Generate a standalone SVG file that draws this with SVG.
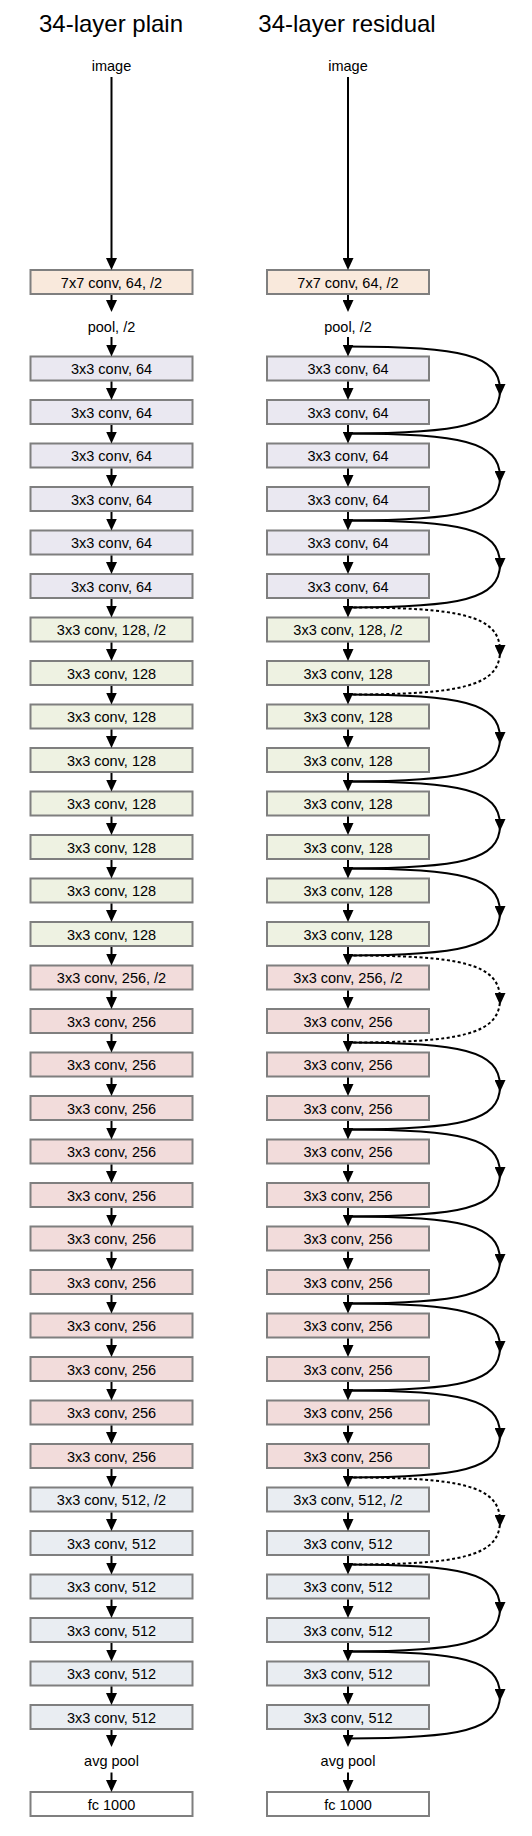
<svg xmlns="http://www.w3.org/2000/svg" width="532" height="1836" viewBox="0 0 532 1836">
<style>
.t{font-family:"Liberation Sans",Arial,sans-serif;font-size:14.5px;text-anchor:middle;fill:#000}
.h{font-size:24px}
.bx{stroke:#7f7f7f;stroke-width:2}
.c0{fill:#f9e9dc}.c1{fill:#eae8f1}.c2{fill:#eef2e2}.c3{fill:#f2dcdb}.c4{fill:#e9edf2}.c5{fill:#fff}
.ln{stroke:#000;stroke-width:2;fill:none;marker-end:url(#ah)}
.sk{stroke:#000;stroke-width:2;fill:none;marker-mid:url(#am)}
.dt{stroke-dasharray:3 2.5}
</style>
<defs>
<marker id="ah" viewBox="0 0 12 11" refX="8" refY="5.5" markerWidth="12" markerHeight="11" markerUnits="userSpaceOnUse" orient="auto"><path d="M0,0 L12,5.5 L0,11 z" fill="#000"/></marker>
<marker id="am" viewBox="0 0 12 11" refX="6" refY="5.5" markerWidth="12" markerHeight="11" markerUnits="userSpaceOnUse" orient="auto"><path d="M0,0 L12,5.5 L0,11 z" fill="#000"/></marker>
</defs>
<rect width="532" height="1836" fill="#fff"/>
<g id="titles">
<text class="t h" x="111" y="32">34-layer plain</text>
<text class="t h" x="347" y="32">34-layer residual</text>
</g>
<g id="plain">
<g id="p-image"><text class="t" x="111.5" y="71">image</text></g>
<g id="p-conv1"><rect class="bx c0" x="30.5" y="270" width="162" height="24"/><text class="t" x="111.5" y="287.8">7x7 conv, 64, /2</text></g>
<g id="p-pool"><text class="t" x="111.5" y="332">pool, /2</text></g>
<g id="p-b0"><rect class="bx c1" x="30.5" y="356.5" width="162" height="24"/><text class="t" x="111.5" y="374.3">3x3 conv, 64</text></g>
<g id="p-b1"><rect class="bx c1" x="30.5" y="400" width="162" height="24"/><text class="t" x="111.5" y="417.8">3x3 conv, 64</text></g>
<g id="p-b2"><rect class="bx c1" x="30.5" y="443.5" width="162" height="24"/><text class="t" x="111.5" y="461.3">3x3 conv, 64</text></g>
<g id="p-b3"><rect class="bx c1" x="30.5" y="487" width="162" height="24"/><text class="t" x="111.5" y="504.8">3x3 conv, 64</text></g>
<g id="p-b4"><rect class="bx c1" x="30.5" y="530.5" width="162" height="24"/><text class="t" x="111.5" y="548.3">3x3 conv, 64</text></g>
<g id="p-b5"><rect class="bx c1" x="30.5" y="574" width="162" height="24"/><text class="t" x="111.5" y="591.8">3x3 conv, 64</text></g>
<g id="p-b6"><rect class="bx c2" x="30.5" y="617.5" width="162" height="24"/><text class="t" x="111.5" y="635.3">3x3 conv, 128, /2</text></g>
<g id="p-b7"><rect class="bx c2" x="30.5" y="661" width="162" height="24"/><text class="t" x="111.5" y="678.8">3x3 conv, 128</text></g>
<g id="p-b8"><rect class="bx c2" x="30.5" y="704.5" width="162" height="24"/><text class="t" x="111.5" y="722.3">3x3 conv, 128</text></g>
<g id="p-b9"><rect class="bx c2" x="30.5" y="748" width="162" height="24"/><text class="t" x="111.5" y="765.8">3x3 conv, 128</text></g>
<g id="p-b10"><rect class="bx c2" x="30.5" y="791.5" width="162" height="24"/><text class="t" x="111.5" y="809.3">3x3 conv, 128</text></g>
<g id="p-b11"><rect class="bx c2" x="30.5" y="835" width="162" height="24"/><text class="t" x="111.5" y="852.8">3x3 conv, 128</text></g>
<g id="p-b12"><rect class="bx c2" x="30.5" y="878.5" width="162" height="24"/><text class="t" x="111.5" y="896.3">3x3 conv, 128</text></g>
<g id="p-b13"><rect class="bx c2" x="30.5" y="922" width="162" height="24"/><text class="t" x="111.5" y="939.8">3x3 conv, 128</text></g>
<g id="p-b14"><rect class="bx c3" x="30.5" y="965.5" width="162" height="24"/><text class="t" x="111.5" y="983.3">3x3 conv, 256, /2</text></g>
<g id="p-b15"><rect class="bx c3" x="30.5" y="1009" width="162" height="24"/><text class="t" x="111.5" y="1026.8">3x3 conv, 256</text></g>
<g id="p-b16"><rect class="bx c3" x="30.5" y="1052.5" width="162" height="24"/><text class="t" x="111.5" y="1070.3">3x3 conv, 256</text></g>
<g id="p-b17"><rect class="bx c3" x="30.5" y="1096" width="162" height="24"/><text class="t" x="111.5" y="1113.8">3x3 conv, 256</text></g>
<g id="p-b18"><rect class="bx c3" x="30.5" y="1139.5" width="162" height="24"/><text class="t" x="111.5" y="1157.3">3x3 conv, 256</text></g>
<g id="p-b19"><rect class="bx c3" x="30.5" y="1183" width="162" height="24"/><text class="t" x="111.5" y="1200.8">3x3 conv, 256</text></g>
<g id="p-b20"><rect class="bx c3" x="30.5" y="1226.5" width="162" height="24"/><text class="t" x="111.5" y="1244.3">3x3 conv, 256</text></g>
<g id="p-b21"><rect class="bx c3" x="30.5" y="1270" width="162" height="24"/><text class="t" x="111.5" y="1287.8">3x3 conv, 256</text></g>
<g id="p-b22"><rect class="bx c3" x="30.5" y="1313.5" width="162" height="24"/><text class="t" x="111.5" y="1331.3">3x3 conv, 256</text></g>
<g id="p-b23"><rect class="bx c3" x="30.5" y="1357" width="162" height="24"/><text class="t" x="111.5" y="1374.8">3x3 conv, 256</text></g>
<g id="p-b24"><rect class="bx c3" x="30.5" y="1400.5" width="162" height="24"/><text class="t" x="111.5" y="1418.3">3x3 conv, 256</text></g>
<g id="p-b25"><rect class="bx c3" x="30.5" y="1444" width="162" height="24"/><text class="t" x="111.5" y="1461.8">3x3 conv, 256</text></g>
<g id="p-b26"><rect class="bx c4" x="30.5" y="1487.5" width="162" height="24"/><text class="t" x="111.5" y="1505.3">3x3 conv, 512, /2</text></g>
<g id="p-b27"><rect class="bx c4" x="30.5" y="1531" width="162" height="24"/><text class="t" x="111.5" y="1548.8">3x3 conv, 512</text></g>
<g id="p-b28"><rect class="bx c4" x="30.5" y="1574.5" width="162" height="24"/><text class="t" x="111.5" y="1592.3">3x3 conv, 512</text></g>
<g id="p-b29"><rect class="bx c4" x="30.5" y="1618" width="162" height="24"/><text class="t" x="111.5" y="1635.8">3x3 conv, 512</text></g>
<g id="p-b30"><rect class="bx c4" x="30.5" y="1661.5" width="162" height="24"/><text class="t" x="111.5" y="1679.3">3x3 conv, 512</text></g>
<g id="p-b31"><rect class="bx c4" x="30.5" y="1705" width="162" height="24"/><text class="t" x="111.5" y="1722.8">3x3 conv, 512</text></g>
<g id="p-avg"><text class="t" x="111.5" y="1765.5">avg pool</text></g>
<g id="p-fc"><rect class="bx c5" x="30.5" y="1792" width="162" height="24"/><text class="t" x="111.5" y="1809.8">fc 1000</text></g>
</g>
<g id="residual">
<g id="r-image"><text class="t" x="348" y="71">image</text></g>
<g id="r-conv1"><rect class="bx c0" x="267" y="270" width="162" height="24"/><text class="t" x="348" y="287.8">7x7 conv, 64, /2</text></g>
<g id="r-pool"><text class="t" x="348" y="332">pool, /2</text></g>
<g id="r-b0"><rect class="bx c1" x="267" y="356.5" width="162" height="24"/><text class="t" x="348" y="374.3">3x3 conv, 64</text></g>
<g id="r-b1"><rect class="bx c1" x="267" y="400" width="162" height="24"/><text class="t" x="348" y="417.8">3x3 conv, 64</text></g>
<g id="r-b2"><rect class="bx c1" x="267" y="443.5" width="162" height="24"/><text class="t" x="348" y="461.3">3x3 conv, 64</text></g>
<g id="r-b3"><rect class="bx c1" x="267" y="487" width="162" height="24"/><text class="t" x="348" y="504.8">3x3 conv, 64</text></g>
<g id="r-b4"><rect class="bx c1" x="267" y="530.5" width="162" height="24"/><text class="t" x="348" y="548.3">3x3 conv, 64</text></g>
<g id="r-b5"><rect class="bx c1" x="267" y="574" width="162" height="24"/><text class="t" x="348" y="591.8">3x3 conv, 64</text></g>
<g id="r-b6"><rect class="bx c2" x="267" y="617.5" width="162" height="24"/><text class="t" x="348" y="635.3">3x3 conv, 128, /2</text></g>
<g id="r-b7"><rect class="bx c2" x="267" y="661" width="162" height="24"/><text class="t" x="348" y="678.8">3x3 conv, 128</text></g>
<g id="r-b8"><rect class="bx c2" x="267" y="704.5" width="162" height="24"/><text class="t" x="348" y="722.3">3x3 conv, 128</text></g>
<g id="r-b9"><rect class="bx c2" x="267" y="748" width="162" height="24"/><text class="t" x="348" y="765.8">3x3 conv, 128</text></g>
<g id="r-b10"><rect class="bx c2" x="267" y="791.5" width="162" height="24"/><text class="t" x="348" y="809.3">3x3 conv, 128</text></g>
<g id="r-b11"><rect class="bx c2" x="267" y="835" width="162" height="24"/><text class="t" x="348" y="852.8">3x3 conv, 128</text></g>
<g id="r-b12"><rect class="bx c2" x="267" y="878.5" width="162" height="24"/><text class="t" x="348" y="896.3">3x3 conv, 128</text></g>
<g id="r-b13"><rect class="bx c2" x="267" y="922" width="162" height="24"/><text class="t" x="348" y="939.8">3x3 conv, 128</text></g>
<g id="r-b14"><rect class="bx c3" x="267" y="965.5" width="162" height="24"/><text class="t" x="348" y="983.3">3x3 conv, 256, /2</text></g>
<g id="r-b15"><rect class="bx c3" x="267" y="1009" width="162" height="24"/><text class="t" x="348" y="1026.8">3x3 conv, 256</text></g>
<g id="r-b16"><rect class="bx c3" x="267" y="1052.5" width="162" height="24"/><text class="t" x="348" y="1070.3">3x3 conv, 256</text></g>
<g id="r-b17"><rect class="bx c3" x="267" y="1096" width="162" height="24"/><text class="t" x="348" y="1113.8">3x3 conv, 256</text></g>
<g id="r-b18"><rect class="bx c3" x="267" y="1139.5" width="162" height="24"/><text class="t" x="348" y="1157.3">3x3 conv, 256</text></g>
<g id="r-b19"><rect class="bx c3" x="267" y="1183" width="162" height="24"/><text class="t" x="348" y="1200.8">3x3 conv, 256</text></g>
<g id="r-b20"><rect class="bx c3" x="267" y="1226.5" width="162" height="24"/><text class="t" x="348" y="1244.3">3x3 conv, 256</text></g>
<g id="r-b21"><rect class="bx c3" x="267" y="1270" width="162" height="24"/><text class="t" x="348" y="1287.8">3x3 conv, 256</text></g>
<g id="r-b22"><rect class="bx c3" x="267" y="1313.5" width="162" height="24"/><text class="t" x="348" y="1331.3">3x3 conv, 256</text></g>
<g id="r-b23"><rect class="bx c3" x="267" y="1357" width="162" height="24"/><text class="t" x="348" y="1374.8">3x3 conv, 256</text></g>
<g id="r-b24"><rect class="bx c3" x="267" y="1400.5" width="162" height="24"/><text class="t" x="348" y="1418.3">3x3 conv, 256</text></g>
<g id="r-b25"><rect class="bx c3" x="267" y="1444" width="162" height="24"/><text class="t" x="348" y="1461.8">3x3 conv, 256</text></g>
<g id="r-b26"><rect class="bx c4" x="267" y="1487.5" width="162" height="24"/><text class="t" x="348" y="1505.3">3x3 conv, 512, /2</text></g>
<g id="r-b27"><rect class="bx c4" x="267" y="1531" width="162" height="24"/><text class="t" x="348" y="1548.8">3x3 conv, 512</text></g>
<g id="r-b28"><rect class="bx c4" x="267" y="1574.5" width="162" height="24"/><text class="t" x="348" y="1592.3">3x3 conv, 512</text></g>
<g id="r-b29"><rect class="bx c4" x="267" y="1618" width="162" height="24"/><text class="t" x="348" y="1635.8">3x3 conv, 512</text></g>
<g id="r-b30"><rect class="bx c4" x="267" y="1661.5" width="162" height="24"/><text class="t" x="348" y="1679.3">3x3 conv, 512</text></g>
<g id="r-b31"><rect class="bx c4" x="267" y="1705" width="162" height="24"/><text class="t" x="348" y="1722.8">3x3 conv, 512</text></g>
<g id="r-avg"><text class="t" x="348" y="1765.5">avg pool</text></g>
<g id="r-fc"><rect class="bx c5" x="267" y="1792" width="162" height="24"/><text class="t" x="348" y="1809.8">fc 1000</text></g>
</g>
<g id="connectors">
<line class="ln" x1="111.5" y1="77" x2="111.5" y2="266"/>
<line class="ln" x1="111.5" y1="295" x2="111.5" y2="308"/>
<line class="ln" x1="111.5" y1="337" x2="111.5" y2="352.5"/>
<line class="ln" x1="111.5" y1="381.5" x2="111.5" y2="396"/>
<line class="ln" x1="111.5" y1="425" x2="111.5" y2="439.5"/>
<line class="ln" x1="111.5" y1="468.5" x2="111.5" y2="483"/>
<line class="ln" x1="111.5" y1="512" x2="111.5" y2="526.5"/>
<line class="ln" x1="111.5" y1="555.5" x2="111.5" y2="570"/>
<line class="ln" x1="111.5" y1="599" x2="111.5" y2="613.5"/>
<line class="ln" x1="111.5" y1="642.5" x2="111.5" y2="657"/>
<line class="ln" x1="111.5" y1="686" x2="111.5" y2="700.5"/>
<line class="ln" x1="111.5" y1="729.5" x2="111.5" y2="744"/>
<line class="ln" x1="111.5" y1="773" x2="111.5" y2="787.5"/>
<line class="ln" x1="111.5" y1="816.5" x2="111.5" y2="831"/>
<line class="ln" x1="111.5" y1="860" x2="111.5" y2="874.5"/>
<line class="ln" x1="111.5" y1="903.5" x2="111.5" y2="918"/>
<line class="ln" x1="111.5" y1="947" x2="111.5" y2="961.5"/>
<line class="ln" x1="111.5" y1="990.5" x2="111.5" y2="1005"/>
<line class="ln" x1="111.5" y1="1034" x2="111.5" y2="1048.5"/>
<line class="ln" x1="111.5" y1="1077.5" x2="111.5" y2="1092"/>
<line class="ln" x1="111.5" y1="1121" x2="111.5" y2="1135.5"/>
<line class="ln" x1="111.5" y1="1164.5" x2="111.5" y2="1179"/>
<line class="ln" x1="111.5" y1="1208" x2="111.5" y2="1222.5"/>
<line class="ln" x1="111.5" y1="1251.5" x2="111.5" y2="1266"/>
<line class="ln" x1="111.5" y1="1295" x2="111.5" y2="1309.5"/>
<line class="ln" x1="111.5" y1="1338.5" x2="111.5" y2="1353"/>
<line class="ln" x1="111.5" y1="1382" x2="111.5" y2="1396.5"/>
<line class="ln" x1="111.5" y1="1425.5" x2="111.5" y2="1440"/>
<line class="ln" x1="111.5" y1="1469" x2="111.5" y2="1483.5"/>
<line class="ln" x1="111.5" y1="1512.5" x2="111.5" y2="1527"/>
<line class="ln" x1="111.5" y1="1556" x2="111.5" y2="1570.5"/>
<line class="ln" x1="111.5" y1="1599.5" x2="111.5" y2="1614"/>
<line class="ln" x1="111.5" y1="1643" x2="111.5" y2="1657.5"/>
<line class="ln" x1="111.5" y1="1686.5" x2="111.5" y2="1701"/>
<line class="ln" x1="111.5" y1="1730" x2="111.5" y2="1743"/>
<line class="ln" x1="111.5" y1="1772.5" x2="111.5" y2="1788"/>
<line class="ln" x1="348" y1="77" x2="348" y2="266"/>
<line class="ln" x1="348" y1="295" x2="348" y2="308"/>
<line class="ln" x1="348" y1="337" x2="348" y2="352.5"/>
<line class="ln" x1="348" y1="381.5" x2="348" y2="396"/>
<line class="ln" x1="348" y1="425" x2="348" y2="439.5"/>
<line class="ln" x1="348" y1="468.5" x2="348" y2="483"/>
<line class="ln" x1="348" y1="512" x2="348" y2="526.5"/>
<line class="ln" x1="348" y1="555.5" x2="348" y2="570"/>
<line class="ln" x1="348" y1="599" x2="348" y2="613.5"/>
<line class="ln" x1="348" y1="642.5" x2="348" y2="657"/>
<line class="ln" x1="348" y1="686" x2="348" y2="700.5"/>
<line class="ln" x1="348" y1="729.5" x2="348" y2="744"/>
<line class="ln" x1="348" y1="773" x2="348" y2="787.5"/>
<line class="ln" x1="348" y1="816.5" x2="348" y2="831"/>
<line class="ln" x1="348" y1="860" x2="348" y2="874.5"/>
<line class="ln" x1="348" y1="903.5" x2="348" y2="918"/>
<line class="ln" x1="348" y1="947" x2="348" y2="961.5"/>
<line class="ln" x1="348" y1="990.5" x2="348" y2="1005"/>
<line class="ln" x1="348" y1="1034" x2="348" y2="1048.5"/>
<line class="ln" x1="348" y1="1077.5" x2="348" y2="1092"/>
<line class="ln" x1="348" y1="1121" x2="348" y2="1135.5"/>
<line class="ln" x1="348" y1="1164.5" x2="348" y2="1179"/>
<line class="ln" x1="348" y1="1208" x2="348" y2="1222.5"/>
<line class="ln" x1="348" y1="1251.5" x2="348" y2="1266"/>
<line class="ln" x1="348" y1="1295" x2="348" y2="1309.5"/>
<line class="ln" x1="348" y1="1338.5" x2="348" y2="1353"/>
<line class="ln" x1="348" y1="1382" x2="348" y2="1396.5"/>
<line class="ln" x1="348" y1="1425.5" x2="348" y2="1440"/>
<line class="ln" x1="348" y1="1469" x2="348" y2="1483.5"/>
<line class="ln" x1="348" y1="1512.5" x2="348" y2="1527"/>
<line class="ln" x1="348" y1="1556" x2="348" y2="1570.5"/>
<line class="ln" x1="348" y1="1599.5" x2="348" y2="1614"/>
<line class="ln" x1="348" y1="1643" x2="348" y2="1657.5"/>
<line class="ln" x1="348" y1="1686.5" x2="348" y2="1701"/>
<line class="ln" x1="348" y1="1730" x2="348" y2="1743"/>
<line class="ln" x1="348" y1="1772.5" x2="348" y2="1788"/>
<path class="sk" d="M348,346.5 C460,346.5 500,354.5 500,390 C500,425.5 460,433.5 348,433.5"/>
<path class="sk" d="M348,433.5 C460,433.5 500,441.5 500,477 C500,512.5 460,520.5 348,520.5"/>
<path class="sk" d="M348,520.5 C460,520.5 500,528.5 500,564 C500,599.5 460,607.5 348,607.5"/>
<path class="sk dt" d="M348,607.5 C460,607.5 500,615.5 500,651 C500,686.5 460,694.5 348,694.5"/>
<path class="sk" d="M348,694.5 C460,694.5 500,702.5 500,738 C500,773.5 460,781.5 348,781.5"/>
<path class="sk" d="M348,781.5 C460,781.5 500,789.5 500,825 C500,860.5 460,868.5 348,868.5"/>
<path class="sk" d="M348,868.5 C460,868.5 500,876.5 500,912 C500,947.5 460,955.5 348,955.5"/>
<path class="sk dt" d="M348,955.5 C460,955.5 500,963.5 500,999 C500,1034.5 460,1042.5 348,1042.5"/>
<path class="sk" d="M348,1042.5 C460,1042.5 500,1050.5 500,1086 C500,1121.5 460,1129.5 348,1129.5"/>
<path class="sk" d="M348,1129.5 C460,1129.5 500,1137.5 500,1173 C500,1208.5 460,1216.5 348,1216.5"/>
<path class="sk" d="M348,1216.5 C460,1216.5 500,1224.5 500,1260 C500,1295.5 460,1303.5 348,1303.5"/>
<path class="sk" d="M348,1303.5 C460,1303.5 500,1311.5 500,1347 C500,1382.5 460,1390.5 348,1390.5"/>
<path class="sk" d="M348,1390.5 C460,1390.5 500,1398.5 500,1434 C500,1469.5 460,1477.5 348,1477.5"/>
<path class="sk dt" d="M348,1477.5 C460,1477.5 500,1485.5 500,1521 C500,1556.5 460,1564.5 348,1564.5"/>
<path class="sk" d="M348,1564.5 C460,1564.5 500,1572.5 500,1608 C500,1643.5 460,1651.5 348,1651.5"/>
<path class="sk" d="M348,1651.5 C460,1651.5 500,1659.5 500,1695 C500,1730.5 460,1738.5 348,1738.5"/>
</g>
</svg>
